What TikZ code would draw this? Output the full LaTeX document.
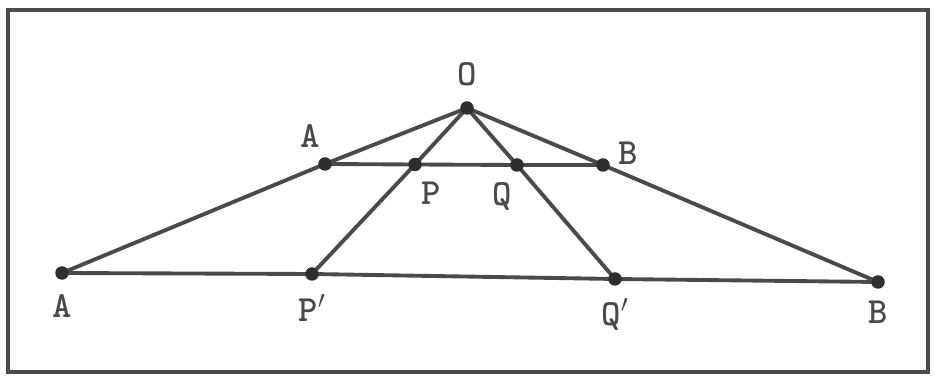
\documentclass[tikz,border=0pt]{standalone}
\usepackage{xcolor}
\usepackage{tikz}
\usetikzlibrary{positioning,backgrounds}
\definecolor{inkgray}{HTML}{4A4A4A}
\definecolor{dotgray}{HTML}{2E2E2E}

\begin{document}
\begin{tikzpicture}[
  dot/.style={circle, fill=dotgray, inner sep=0pt, minimum size=0.27cm},
  edge/.style={line width=2.2pt, inkgray, line cap=round},
  lbl/.style={inner sep=0pt, text=inkgray, font=\ttfamily\bfseries\fontsize{21}{23}\selectfont}]
  \useasboundingbox (0,0) rectangle (18.7,-7.66);
  \draw[line width=1.8pt, inkgray] (0.16,-0.2) rectangle (18.56,-7.44);

  \node[dot] (O) at (9.34,-2.16) {};
  \node[dot] (Aup) at (6.50,-3.28) {};
  \node[dot] (P) at (8.30,-3.29) {};
  \node[dot] (Q) at (10.34,-3.30) {};
  \node[dot] (Bup) at (12.06,-3.30) {};
  \node[dot] (Alo) at (1.24,-5.46) {};
  \node[dot] (Plo) at (6.24,-5.48) {};
  \node[dot] (Qlo) at (12.30,-5.58) {};
  \node[dot] (Blo) at (17.56,-5.64) {};

  \node[lbl, above=0.3cm of O] (lO) {O};
  \node[lbl, above left=0.22cm and 0.0cm of Aup] (lAup) {A};
  \node[lbl, below right=0.24cm and 0.02cm of P] (lP) {P};
  \node[lbl, below left=0.24cm and 0.0cm of Q] (lQ) {Q};
  \node[lbl, right=0.16cm of Bup, yshift=0.24cm] (lBup) {B};
  \node[lbl, below=0.28cm of Alo] (lAlo) {A};
  \node[lbl, below=0.26cm of Plo] (lPlo) {P$^\prime$};
  \node[lbl, below=0.24cm of Qlo] (lQlo) {Q$^\prime$};
  \node[lbl, below=0.24cm of Blo] (lBlo) {B};

  \begin{scope}[on background layer]
    \draw[edge] (O.center) -- (Aup.center) -- (Alo.center);
    \draw[edge] (O.center) -- (P.center) -- (Plo.center);
    \draw[edge] (O.center) -- (Q.center) -- (Qlo.center);
    \draw[edge] (O.center) -- (Bup.center) -- (Blo.center);
    \draw[edge] (Aup.center) -- (P.center) -- (Q.center) -- (Bup.center);
    \draw[edge] (Alo.center) -- (Plo.center) -- (Qlo.center) -- (Blo.center);
  \end{scope}
\end{tikzpicture}
\end{document}
